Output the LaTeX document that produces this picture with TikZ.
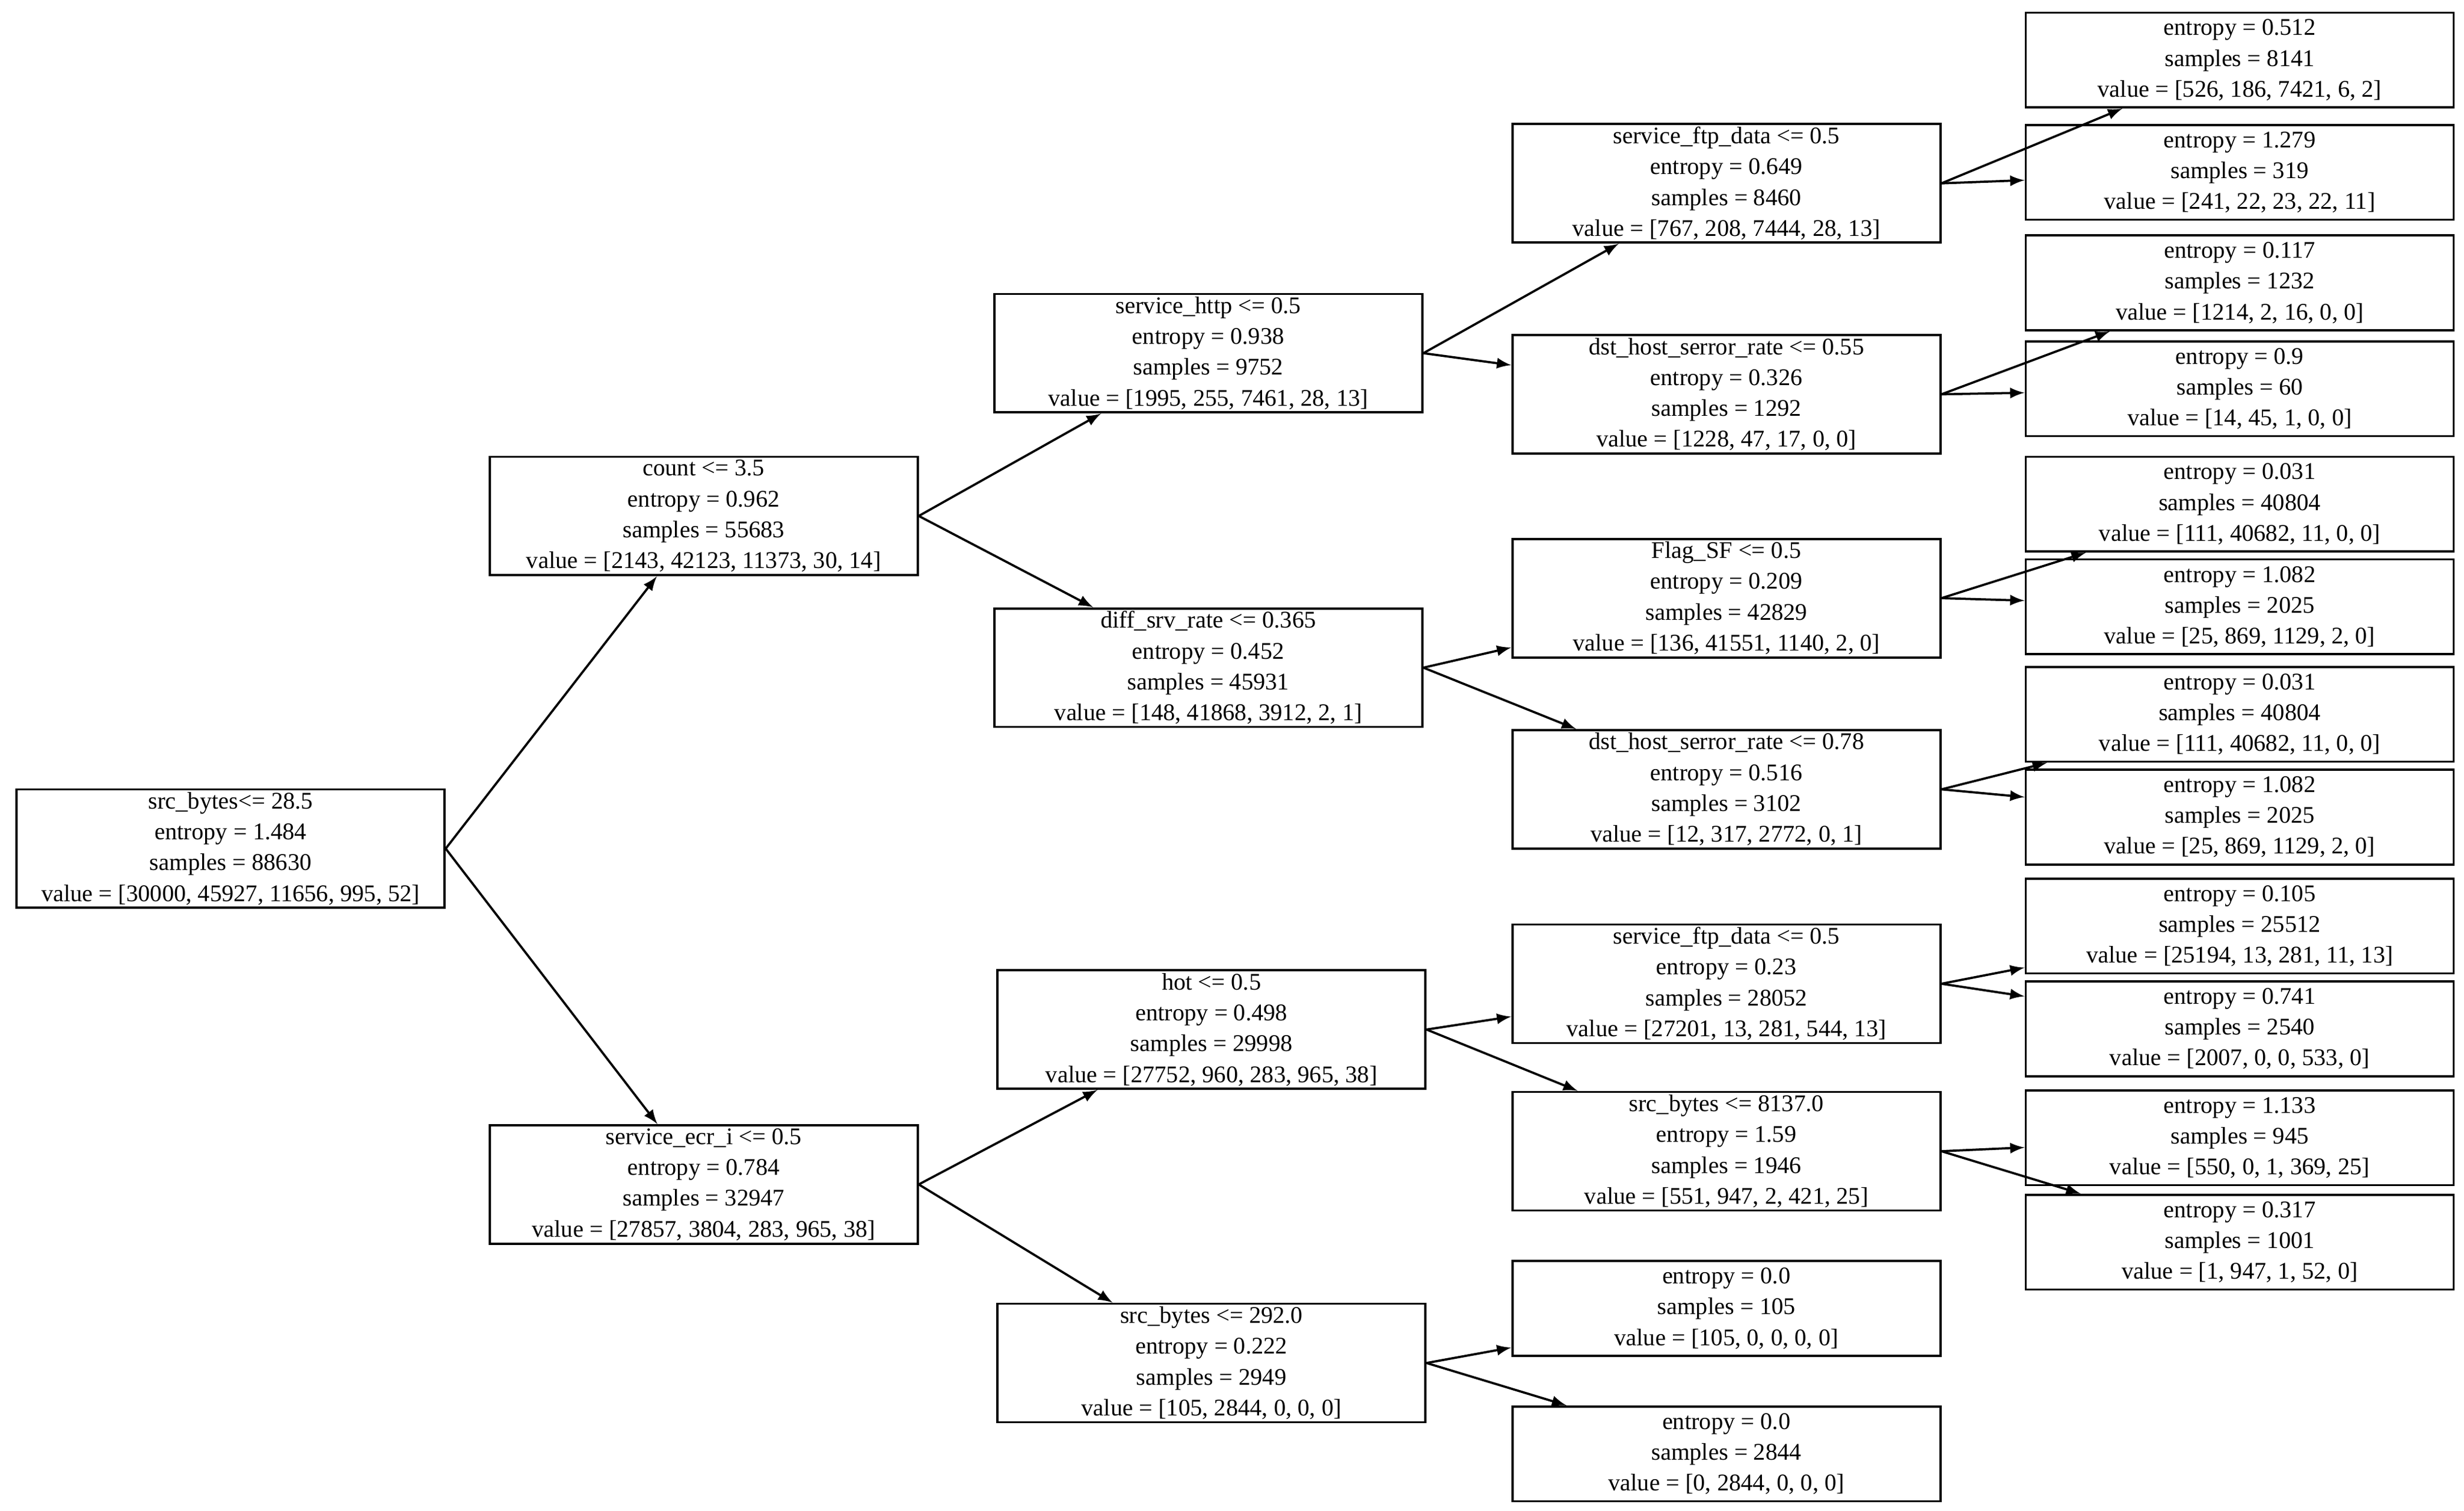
\documentclass[tikz,border=0pt]{standalone}
\usepackage{fontspec}
\setmainfont{Liberation Serif}
\begin{document}
\begin{tikzpicture}[x=0.02cm,y=-0.02cm,
  split/.style={draw,thick,minimum width=5.42cm,minimum height=1.5cm,inner sep=0pt,align=center,font=\fontsize{8.6}{11.1}\selectfont},
  leaf/.style={split,minimum height=1.2cm},
  edge/.style={thick,-latex}]
  \useasboundingbox (0,0) rectangle (1560,956);
  % root and first level
  \node[split] (root) at (146,537) {src\_bytes<= 28.5\\entropy = 1.484\\samples = 88630\\value = [30000, 45927, 11656, 995, 52]};
  \node[split] (count) at (445.5,326.5) {count <= 3.5\\entropy = 0.962\\samples = 55683\\value = [2143, 42123, 11373, 30, 14]};
  \node[split] (ecr) at (445.5,749.5) {service\_ecr\_i <= 0.5\\entropy = 0.784\\samples = 32947\\value = [27857, 3804, 283, 965, 38]};
  % second level
  \node[split] (http) at (765,223.5) {service\_http <= 0.5\\entropy = 0.938\\samples = 9752\\value = [1995, 255, 7461, 28, 13]};
  \node[split] (diff) at (765,422.5) {diff\_srv\_rate <= 0.365\\entropy = 0.452\\samples = 45931\\value = [148, 41868, 3912, 2, 1]};
  \node[split] (hot) at (767,651.5) {hot <= 0.5\\entropy = 0.498\\samples = 29998\\value = [27752, 960, 283, 965, 38]};
  \node[split] (srcb) at (767,862.5) {src\_bytes <= 292.0\\entropy = 0.222\\samples = 2949\\value = [105, 2844, 0, 0, 0]};
  % third level
  \node[split] (ftpa) at (1093,116) {service\_ftp\_data <= 0.5\\entropy = 0.649\\samples = 8460\\value = [767, 208, 7444, 28, 13]};
  \node[split] (dsta) at (1093,249.5) {dst\_host\_serror\_rate <= 0.55\\entropy = 0.326\\samples = 1292\\value = [1228, 47, 17, 0, 0]};
  \node[split] (flag) at (1093,378.5) {Flag\_SF <= 0.5\\entropy = 0.209\\samples = 42829\\value = [136, 41551, 1140, 2, 0]};
  \node[split] (dstb) at (1093,499.5) {dst\_host\_serror\_rate <= 0.78\\entropy = 0.516\\samples = 3102\\value = [12, 317, 2772, 0, 1]};
  \node[split] (ftpb) at (1093,622.5) {service\_ftp\_data <= 0.5\\entropy = 0.23\\samples = 28052\\value = [27201, 13, 281, 544, 13]};
  \node[split] (srcc) at (1093,728.5) {src\_bytes <= 8137.0\\entropy = 1.59\\samples = 1946\\value = [551, 947, 2, 421, 25]};
  \node[leaf] (la) at (1093,828) {entropy = 0.0\\samples = 105\\value = [105, 0, 0, 0, 0]};
  \node[leaf] (lb) at (1093,920) {entropy = 0.0\\samples = 2844\\value = [0, 2844, 0, 0, 0]};
  % leaves
  \node[leaf] (l1) at (1418,38) {entropy = 0.512\\samples = 8141\\value = [526, 186, 7421, 6, 2]};
  \node[leaf] (l2) at (1418,109) {entropy = 1.279\\samples = 319\\value = [241, 22, 23, 22, 11]};
  \node[leaf] (l3) at (1418,179) {entropy = 0.117\\samples = 1232\\value = [1214, 2, 16, 0, 0]};
  \node[leaf] (l4) at (1418,246) {entropy = 0.9\\samples = 60\\value = [14, 45, 1, 0, 0]};
  \node[leaf] (l5) at (1418,319) {entropy = 0.031\\samples = 40804\\value = [111, 40682, 11, 0, 0]};
  \node[leaf] (l6) at (1418,384) {entropy = 1.082\\samples = 2025\\value = [25, 869, 1129, 2, 0]};
  \node[leaf] (l7) at (1418,452) {entropy = 0.031\\samples = 40804\\value = [111, 40682, 11, 0, 0]};
  \node[leaf] (l8) at (1418,517) {entropy = 1.082\\samples = 2025\\value = [25, 869, 1129, 2, 0]};
  \node[leaf] (l9) at (1418,586) {entropy = 0.105\\samples = 25512\\value = [25194, 13, 281, 11, 13]};
  \node[leaf] (l10) at (1418,651) {entropy = 0.741\\samples = 2540\\value = [2007, 0, 0, 533, 0]};
  \node[leaf] (l11) at (1418,720) {entropy = 1.133\\samples = 945\\value = [550, 0, 1, 369, 25]};
  \node[leaf] (l12) at (1418,786) {entropy = 0.317\\samples = 1001\\value = [1, 947, 1, 52, 0]};
  % edges
  \foreach \p/\c in {root/count,root/ecr,count/http,count/diff,ecr/hot,ecr/srcb,
    http/ftpa,http/dsta,diff/flag,diff/dstb,hot/ftpb,hot/srcc,srcb/la,srcb/lb,
    ftpa/l1,ftpa/l2,dsta/l3,dsta/l4,flag/l5,flag/l6,dstb/l7,dstb/l8,
    ftpb/l9,ftpb/l10,srcc/l11,srcc/l12}
    \draw[edge] (\p.east) -- (\c);
\end{tikzpicture}
\end{document}
